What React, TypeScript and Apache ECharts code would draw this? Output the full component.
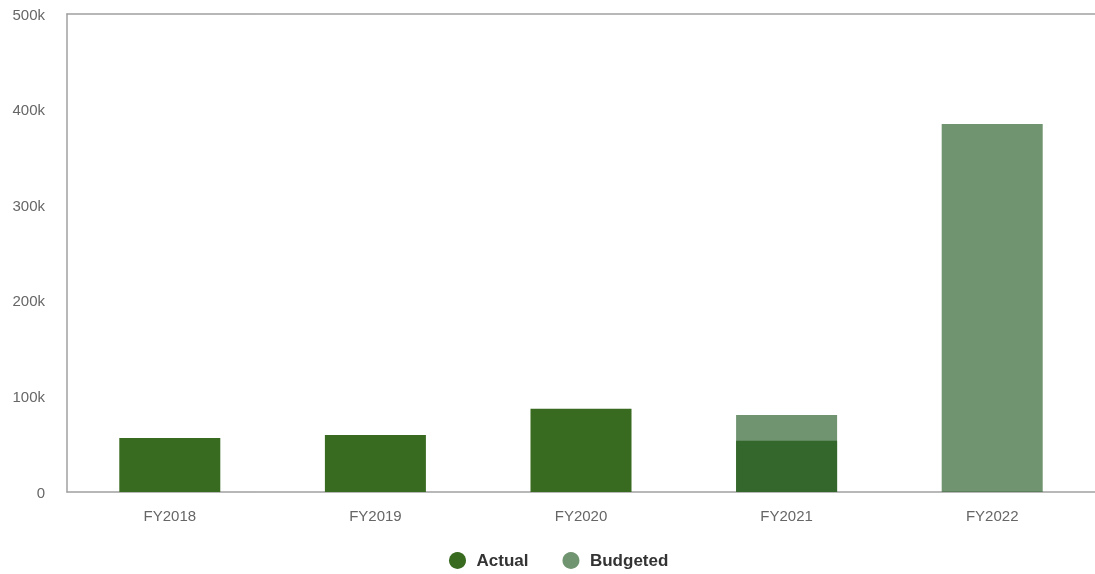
import React, { useEffect, useRef } from "react";
import * as echarts from "echarts";

const categories = ["FY2018", "FY2019", "FY2020", "FY2021", "FY2022"];
const actual: (number | null)[] = [56500, 59500, 87000, 53500, null];
const budgeted: (number | null)[] = [null, null, null, 80500, 385000];
const yMax = 500000;
const yInterval = 100000;

export default function App() {
  const ref = useRef<HTMLDivElement>(null);
  useEffect(() => {
    if (!ref.current) return;
    const chart = echarts.init(ref.current, undefined, { renderer: "svg" });
    const font = "'Liberation Sans', Arial, Helvetica, sans-serif";
    chart.setOption({
      animation: false,
      textStyle: { fontFamily: font },
      grid: { left: 67, width: 1040, top: 14, height: 478, containLabel: false },
      legend: {
        data: ["Actual", "Budgeted"],
        left: 444,
        top: 547,
        icon: "circle",
        itemWidth: 28,
        itemHeight: 17,
        itemGap: 34,
        textStyle: { fontSize: 17, fontWeight: "bold", color: "#333", fontFamily: font },
      },
      xAxis: [
        {
          type: "category",
          data: categories,
          axisLine: { show: true, lineStyle: { color: "#a0a0a0", width: 1.5 } },
          axisTick: { show: false },
          axisLabel: { color: "#666", fontSize: 15, margin: 16, fontFamily: font },
        },
        {
          type: "category",
          position: "top",
          data: categories,
          axisLine: { show: true, lineStyle: { color: "#a0a0a0", width: 1.5 } },
          axisTick: { show: false },
          axisLabel: { show: false },
        },
      ],
      yAxis: {
        type: "value",
        min: 0,
        max: yMax,
        interval: yInterval,
        axisLine: { show: true, lineStyle: { color: "#a0a0a0", width: 1.5 } },
        axisTick: { show: false },
        splitLine: { show: false },
        axisLabel: {
          color: "#666",
          fontSize: 15,
          margin: 22,
          fontFamily: font,
          formatter: (v: number) => (v === 0 ? "0" : v / 1000 + "k"),
        },
      },
      series: [
        {
          name: "Actual",
          type: "bar",
          data: actual,
          barWidth: 101,
          barGap: "-100%",
          itemStyle: { color: "#386a1f" },
        },
        {
          name: "Budgeted",
          type: "bar",
          data: budgeted,
          barWidth: 101,
          barGap: "-100%",
          itemStyle: { color: "rgba(50,102,50,0.7)" },
        },
      ],
    });
    return () => chart.dispose();
  }, []);
  return (
    <div
      ref={ref}
      style={{ position: "fixed", left: 0, top: 0, width: 1095, height: 574, overflow: "hidden" }}
    />
  );
}
